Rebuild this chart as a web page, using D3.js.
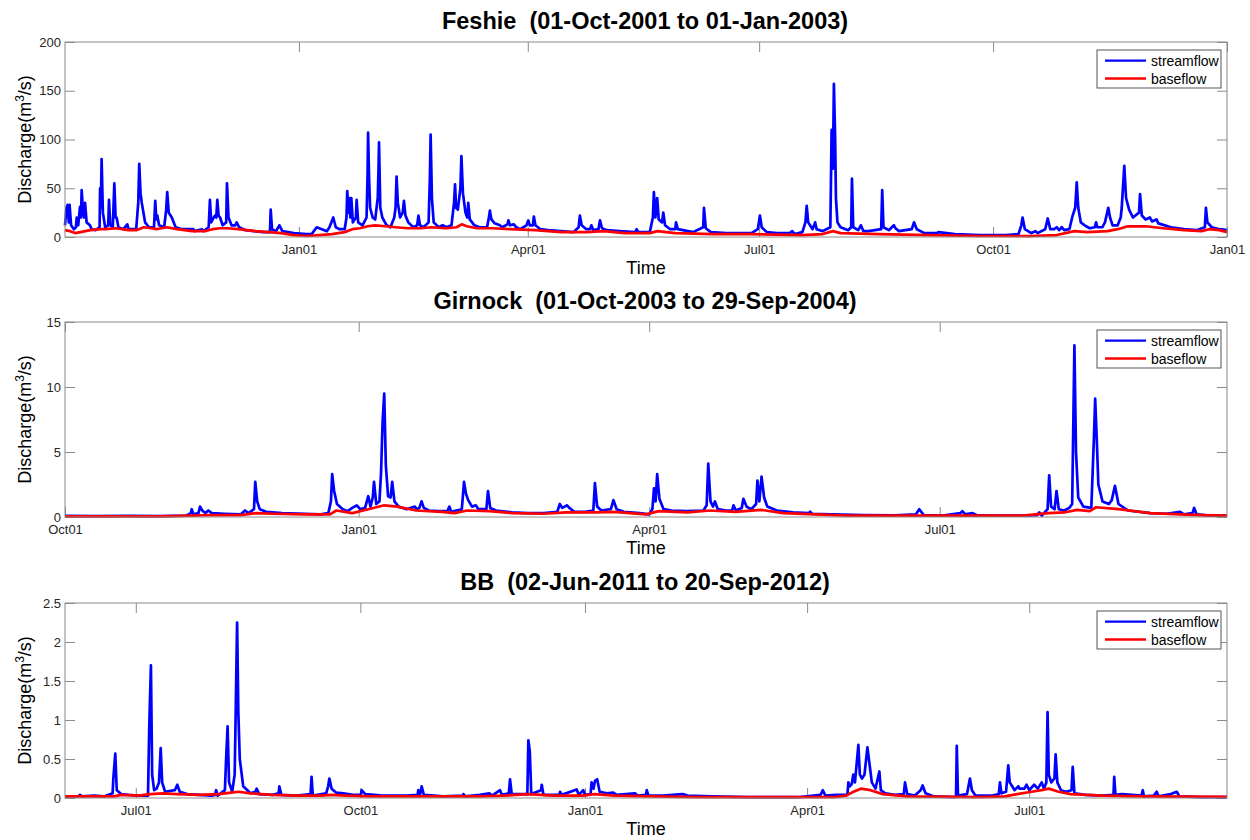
<!DOCTYPE html>
<html>
<head>
<meta charset="utf-8">
<title>Streamflow and baseflow</title>
<script src="https://cdn.jsdelivr.net/npm/d3@7"></script>
<style>
  body { margin: 0; background: #fff; }
  svg { display: block; font-family: "Liberation Sans", Arial, Helvetica, sans-serif; }
</style>
</head>
<body>
<div id="chart"></div>
<script>
// Each series is [day offset from record start, discharge m3/s]

// Feshie, 01-Oct-2001 .. 01-Jan-2003
const feshieRange = ['2001-10-01', '2003-01-01'];
const feshieTicks = ['2002-01-01', '2002-04-01', '2002-07-01', '2002-10-01', '2003-01-01'];
const feshieYTicks = [0, 50, 100, 150, 200];
const feshieStream = [[0,12],[0.6,30],[1,33],[1.5,15],[1.8,33],[2.4,12],[3.5,8],[4.3,10],[4.6,20],[5.2,12],[5.9,31],[6.3,20],[6.55,48],[7,30],[7.5,20],[7.9,35],[8.5,15],[9.8,12],[10.5,8],[12,7],[13.6,10],[13.8,50],[14.1,30],[14.4,80],[14.9,25],[15.8,10],[17,12],[17.3,38],[17.8,12],[18.8,10],[19.4,55],[19.9,20],[20.3,20],[21,10],[23,8],[24.5,13],[25,8],[28,8],[28.8,35],[29.2,75],[29.7,45],[30.2,35],[31.5,15],[33,10],[35,10],[35.5,37],[35.9,18],[36.3,22],[37,12],[39,10],[39.8,28],[40.2,46],[40.8,25],[42,20],[43.5,10],[46,8],[50.5,8],[51,6],[53.8,8],[54.5,6],[56.5,10],[57,38],[57.5,15],[58.5,20],[59,22],[59.5,20],[59.9,38],[60.4,22],[61,20],[62,12],[63.4,15],[63.7,55],[64.3,20],[65.5,12],[67,12],[67.5,15],[68.5,10],[71,7],[78,5],[80.6,5],[80.9,28],[81.4,8],[83,6],[84.3,12],[85.5,6],[90,4],[95,3],[97,3],[99,10],[101,8],[103,6],[104,10],[105.5,20],[106.5,10],[108,8],[110,8],[110.7,20],[111,47],[111.5,25],[111.8,40],[112.2,20],[112.6,40],[113.2,15],[114.4,20],[114.7,38],[115.3,15],[117,12],[118.6,20],[119,65],[119.2,107],[119.6,60],[120,30],[121,20],[122,18],[123,40],[123.3,70],[123.5,97],[124,30],[124.8,20],[126.5,12],[128,10],[129.5,20],[130,30],[130.4,62],[130.9,35],[131.8,20],[132.8,25],[133.3,37],[133.9,22],[135,15],[137,10],[138.5,12],[139,22],[139.6,12],[141,10],[143,15],[143.5,60],[143.8,105],[144.3,40],[145,15],[147,10],[148.5,12],[150,10],[152,12],[153,35],[153.4,54],[153.8,30],[154.5,28],[155.5,50],[155.9,83],[156.5,45],[157.5,25],[158.2,20],[158.6,35],[159.2,18],[161,12],[163,10],[166,10],[166.7,20],[167.1,27],[167.7,18],[169,14],[171,12],[172,10],[174,13],[174.4,17],[175,12],[176.5,13],[177.5,10],[179,8],[181.5,12],[182.2,17],[182.8,12],[184,12],[184.4,21],[185,12],[187,8],[190,7],[195,6],[200,5],[202,10],[202.5,22],[203.2,12],[205,8],[206.5,8],[207,12],[207.8,7],[209.8,8],[210.4,17],[211.2,9],[213,7],[218,6],[224.3,5],[224.8,8],[225.5,5],[230,5],[231.2,20],[231.6,46],[232.2,20],[232.9,40],[233.5,18],[234.8,15],[235.3,25],[236,12],[238,8],[240,8],[240.3,15],[241,8],[245,6],[247,5],[251,10],[251.3,30],[252,9],[254,5],[260,4],[265,4],[270,4],[272.5,8],[273.3,22],[274,10],[276,5],[280,4],[285,4],[286,6],[287,3],[290,5],[291.2,15],[291.7,32],[292.3,15],[294,8],[295,15],[295.6,8],[298,6],[301,10],[301.5,110],[302,70],[302.4,157],[302.9,100],[303.2,40],[303.8,15],[305,10],[308,7],[309.2,10],[309.5,60],[310,10],[312,7],[313,12],[314,6],[316,6],[321,8],[321.4,48],[321.9,10],[324,7],[326,12],[326.6,9],[328,6],[333,8],[333.9,15],[335,8],[338,4],[343,4],[343.5,5],[350,3],[360,2],[370,2],[375,3],[376.1,12],[376.6,20],[377.5,8],[380,4],[381.7,6],[382.5,4],[385.5,8],[386.5,19],[387.5,8],[389,8],[390,10],[391,7],[392,10],[393,7],[395,8],[396.3,22],[397.3,30],[397.9,56],[398.5,30],[399.5,15],[401,12],[403,9],[405,10],[405.5,15],[406,10],[408,10],[409,15],[410.3,30],[411,20],[412,12],[414,12],[415.2,20],[415.6,30],[416.6,73],[417.3,40],[418.5,28],[420,20],[422.4,25],[422.8,44],[423.5,22],[425,18],[426.7,20],[427.5,16],[429.3,18],[430,14],[435,10],[440,8],[445,7],[448.3,10],[448.7,30],[449.3,15],[451,10],[454,8],[457,7]];
const feshieBase = [[0,7],[2,6],[4,4],[6,5],[10,7],[14,8],[16,8],[20,9],[25,7],[28,7],[31,10],[34,9],[36,8],[38,9],[40,10],[44,8],[50,6],[55,6],[58,8],[61,9],[64,9],[68,8],[75,6],[85,4],[90,2],[95,1],[100,2],[105,3],[110,5],[113,8],[116,9],[119,11],[122,12],[126,11],[130,10],[135,9],[140,9],[144,10],[150,9],[154,10],[156,13],[158,11],[162,9],[168,9],[175,8],[185,7],[195,5],[205,5],[212,6],[220,4],[230,4],[233,6],[240,4],[255,3],[270,3],[290,2],[298,3],[302,6],[305,4],[320,3],[340,2],[360,1],[380,1],[390,2],[397,6],[402,5],[410,6],[414,8],[418,11],[425,11],[432,9],[440,7],[447,6],[450,8],[454,7],[457,5]];

// Girnock, 01-Oct-2003 .. 29-Sep-2004
const girnockRange = ['2003-10-01', '2004-09-29'];
const girnockTicks = ['2003-10-01', '2004-01-01', '2004-04-01', '2004-07-01'];
const girnockYTicks = [0, 5, 10, 15];
const girnockStream = [[0,0.08],[10,0.07],[20,0.08],[30,0.06],[38,0.1],[39.4,0.3],[39.7,0.6],[40.2,0.2],[41.8,0.3],[42.3,0.8],[43,0.5],[44,0.3],[44.9,0.5],[46,0.3],[50,0.25],[55,0.2],[56.4,0.5],[57.5,0.3],[59.2,0.6],[59.6,2.7],[60.2,1.2],[61,0.6],[63,0.4],[68,0.3],[75,0.25],[80,0.2],[82.5,0.3],[83.3,1.2],[83.7,3.3],[84.3,2],[85.2,1],[87,0.6],[88.5,0.45],[90,0.7],[91.4,0.9],[92.5,0.6],[94,0.7],[95,1.6],[95.7,0.8],[96.4,1.5],[96.8,2.7],[97.5,1.0],[98.5,1.2],[99,3.4],[99.5,7.4],[100,9.5],[100.5,4],[101.2,1.6],[102,1.5],[102.5,2.7],[103.2,1.2],[104.5,0.8],[107,0.6],[109.6,0.8],[110.2,0.6],[111,0.7],[111.7,1.2],[112.4,0.7],[114,0.5],[117,0.45],[119.8,0.45],[120.4,0.8],[121,0.4],[124.3,0.6],[125,2.7],[125.6,1.8],[126.3,1.3],[127.5,0.8],[128.7,0.9],[129.5,0.6],[132,0.6],[132.5,2.0],[133.2,0.7],[135,0.5],[140,0.35],[145,0.3],[150,0.3],[154.2,0.4],[155,1.0],[155.8,0.7],[157.2,0.9],[158,0.7],[159.5,0.4],[163,0.4],[165.5,0.5],[166,2.6],[166.7,0.8],[168,0.5],[171,0.6],[171.8,1.3],[172.8,0.6],[175,0.4],[180,0.3],[183,0.2],[184,0.6],[184.5,2.2],[185,1.2],[185.5,3.3],[186.2,1.4],[187.5,0.6],[190,0.5],[195,0.45],[200,0.5],[201,0.9],[201.5,4.1],[202.2,1.2],[203,0.8],[203.6,1.2],[204.5,0.6],[207,0.5],[209,0.5],[209.4,0.9],[210.2,0.5],[212,0.7],[212.5,1.4],[213.5,0.8],[215,0.6],[216.5,1],[216.9,2.8],[217.5,1.2],[218.2,3.1],[219,1.5],[220,0.8],[223,0.5],[228,0.35],[233,0.3],[233.4,0.4],[234,0.25],[240,0.2],[250,0.15],[260,0.12],[266.5,0.2],[267.6,0.6],[269,0.15],[275,0.1],[280.5,0.3],[281.1,0.45],[282,0.2],[284.3,0.3],[285.5,0.15],[290,0.1],[300,0.1],[304.5,0.15],[305.2,0.35],[306,0.1],[307.8,0.6],[308.3,3.2],[308.9,0.8],[310,0.6],[310.6,2.0],[311.3,0.6],[313,0.5],[314.6,0.7],[315.5,1.0],[316.2,13.2],[316.7,5],[317.4,1.5],[319,0.8],[321.5,0.7],[322.3,6],[322.7,9.1],[323.2,6],[323.7,2.5],[325,1.2],[327,1],[327.9,1.3],[328.9,2.4],[330,1],[333,0.5],[340,0.3],[345,0.25],[349.3,0.4],[350.5,0.2],[353.2,0.3],[353.7,0.7],[354.5,0.2],[358,0.12],[364,0.1]];
const girnockBase = [[0,0.05],[30,0.05],[40,0.1],[45,0.15],[55,0.15],[60,0.3],[65,0.25],[75,0.2],[83,0.2],[85,0.5],[90,0.3],[95,0.6],[100,0.9],[104,0.8],[110,0.5],[118,0.4],[122,0.3],[126,0.5],[133,0.45],[140,0.3],[150,0.25],[157,0.35],[166,0.35],[172,0.4],[182,0.2],[186,0.45],[195,0.35],[202,0.5],[210,0.4],[218,0.55],[225,0.3],[235,0.2],[245,0.1],[300,0.1],[308,0.3],[313,0.35],[317,0.55],[321,0.45],[323,0.75],[330,0.6],[340,0.3],[355,0.15],[364,0.1]];

// BB, 02-Jun-2011 .. 20-Sep-2012
const bbRange = ['2011-06-02', '2012-09-20'];
const bbTicks = ['2011-07-01', '2011-10-01', '2012-01-01', '2012-04-01', '2012-07-01'];
const bbYTicks = [0, 0.5, 1, 1.5, 2, 2.5];
const bbStream = [[0,0.02],[5.5,0.02],[6.1,0.04],[7,0.02],[12,0.03],[16,0.02],[19.5,0.06],[19.8,0.25],[20.6,0.57],[21.2,0.1],[23,0.05],[26,0.04],[30,0.03],[34,0.03],[34.5,0.9],[35.2,1.7],[35.7,0.3],[36.5,0.1],[37.5,0.12],[38.5,0.2],[39.2,0.64],[39.8,0.2],[41,0.08],[45,0.1],[46,0.17],[47,0.08],[50,0.05],[55,0.04],[60,0.03],[61.5,0.04],[61.9,0.1],[62.5,0.03],[65.5,0.1],[66,0.5],[66.6,0.92],[67.2,0.2],[68.5,0.08],[69.5,0.3],[69.8,0.85],[70.5,2.25],[71,1.1],[71.6,0.5],[73,0.15],[76,0.06],[78,0.08],[78.5,0.12],[79.5,0.05],[85,0.04],[87.5,0.06],[87.8,0.15],[88.6,0.04],[95,0.03],[100.6,0.05],[101,0.27],[101.5,0.03],[107,0.06],[107.8,0.15],[108.3,0.25],[109.2,0.12],[111,0.07],[114,0.06],[118,0.04],[121.2,0.04],[121.5,0.1],[123,0.05],[130,0.03],[140,0.03],[144.5,0.04],[144.7,0.1],[145.5,0.05],[146.1,0.15],[147,0.04],[155,0.02],[163,0.03],[163.2,0.05],[164,0.02],[170,0.04],[173.8,0.06],[175,0.03],[178.2,0.1],[179,0.04],[181.8,0.06],[182.3,0.24],[183,0.05],[189.4,0.05],[189.8,0.74],[190.4,0.6],[191,0.05],[195,0.1],[195.3,0.17],[196,0.04],[202.5,0.04],[202.8,0.08],[203.5,0.04],[209.6,0.11],[210.5,0.04],[212.3,0.1],[213,0.04],[215.3,0.05],[215.7,0.2],[216.5,0.12],[217.1,0.22],[218,0.24],[219,0.08],[222,0.06],[224.6,0.07],[226,0.04],[233.5,0.06],[234.5,0.03],[238,0.04],[238.3,0.1],[239,0.03],[245,0.03],[253,0.05],[255,0.03],[265,0.02],[280,0.01],[300,0.01],[309.5,0.04],[310.4,0.1],[311.5,0.03],[316,0.04],[320.5,0.04],[320.9,0.2],[321.5,0.15],[322.3,0.18],[322.9,0.3],[323.6,0.2],[325,0.68],[325.6,0.3],[326.5,0.25],[327.5,0.3],[328.7,0.65],[329.3,0.5],[330.5,0.2],[332,0.12],[333.6,0.34],[334.2,0.1],[336,0.06],[340,0.04],[343.6,0.05],[344.1,0.2],[345,0.05],[348,0.03],[350.5,0.1],[351.3,0.16],[352.5,0.06],[356,0.02],[364,0.01],[365,0.02],[365.3,0.67],[365.8,0.03],[369.5,0.05],[370.7,0.25],[371.5,0.1],[373,0.03],[380,0.03],[382.5,0.05],[383,0.2],[383.6,0.06],[385.5,0.08],[386.4,0.42],[387,0.2],[388,0.15],[389,0.1],[390.5,0.15],[391,0.12],[393,0.12],[393.9,0.17],[395,0.1],[397,0.17],[398.5,0.12],[400.1,0.2],[401,0.12],[402,0.2],[402.5,1.1],[403,0.3],[404,0.2],[405.3,0.25],[405.8,0.56],[406.5,0.2],[408,0.1],[410,0.08],[412.3,0.1],[412.8,0.4],[413.5,0.06],[418,0.04],[425,0.03],[429.5,0.04],[429.8,0.27],[430.3,0.04],[433,0.05],[441,0.03],[441.5,0.1],[442,0.02],[446,0.03],[447.2,0.08],[448,0.02],[453,0.05],[455.4,0.08],[456.5,0.02],[465,0.01],[476,0.01]];
const bbBase = [[0,0.02],[20,0.02],[23,0.04],[30,0.03],[35,0.05],[40,0.06],[46,0.05],[55,0.04],[63,0.05],[68,0.07],[71,0.08],[76,0.06],[85,0.04],[95,0.03],[105,0.03],[109,0.04],[115,0.03],[125,0.02],[170,0.02],[180,0.03],[190,0.05],[200,0.03],[212,0.03],[217,0.05],[225,0.03],[240,0.02],[260,0.01],[315,0.01],[320,0.03],[323,0.08],[326,0.12],[330,0.1],[335,0.05],[345,0.02],[375,0.01],[385,0.02],[390,0.05],[396,0.08],[400,0.1],[403,0.12],[407,0.08],[412,0.05],[425,0.03],[440,0.02],[476,0.015]];

const seriesNames = ['streamflow', 'baseflow'];
const seriesColors = ['#0000ff', '#ff0000'];

const panels = [
    { title: 'Feshie  (01-Oct-2001 to 01-Jan-2003)', range: feshieRange, ticks: feshieTicks, yTicks: feshieYTicks, stream: feshieStream, base: feshieBase, top: 42 },
    { title: 'Girnock  (01-Oct-2003 to 29-Sep-2004)', range: girnockRange, ticks: girnockTicks, yTicks: girnockYTicks, stream: girnockStream, base: girnockBase, top: 322 },
    { title: 'BB  (02-Jun-2011 to 20-Sep-2012)', range: bbRange, ticks: bbTicks, yTicks: bbYTicks, stream: bbStream, base: bbBase, top: 603 }
];

const width = 1250, height = 840;
const left = 65, right = 1227, plotH = 195;
const frameColor = '#8a8a8a';
const labelColor = '#262626';
const tickLen = 10;

const svg = d3.select('#chart').append('svg')
    .attr('width', width)
    .attr('height', height);

svg.append('rect').attr('width', width).attr('height', height).attr('fill', '#fff');

const parse = d3.utcParse('%Y-%m-%d');
const fmt = d3.utcFormat('%b%d');

panels.forEach(p => {
    const start = parse(p.range[0]);
    const end = parse(p.range[1]);
    const toDate = day => new Date(start.getTime() + day * 864e5);
    const top = p.top, bottom = p.top + plotH;

    const x = d3.scaleUtc().domain([start, end]).range([left, right]);
    const y = d3.scaleLinear().domain([0, d3.max(p.yTicks)]).range([bottom, top]);
    const tickDates = p.ticks.map(parse);

    const g = svg.append('g');

    // inward ticks on all four sides, matlab style
    const styleAxis = sel => {
        sel.select('.domain').remove();
        sel.selectAll('.tick line').attr('stroke', frameColor);
        sel.selectAll('.tick text').attr('fill', labelColor).style('font-size', '13px').style('font-family', 'inherit');
    };

    g.append('g').attr('transform', `translate(0,${bottom})`)
        .call(d3.axisBottom(x).tickValues(tickDates).tickFormat(fmt).tickSizeInner(-tickLen).tickSizeOuter(0))
        .call(styleAxis)
        .selectAll('.tick text').attr('dy', '0.71em').attr('y', 8);

    g.append('g').attr('transform', `translate(0,${top})`)
        .call(d3.axisTop(x).tickValues(tickDates).tickFormat('').tickSizeInner(-tickLen).tickSizeOuter(0))
        .call(styleAxis);

    g.append('g').attr('transform', `translate(${left},0)`)
        .call(d3.axisLeft(y).tickValues(p.yTicks).tickFormat(d => String(d)).tickSizeInner(-tickLen).tickSizeOuter(0).tickPadding(4))
        .call(styleAxis);

    g.append('g').attr('transform', `translate(${right},0)`)
        .call(d3.axisRight(y).tickValues(p.yTicks).tickFormat('').tickSizeInner(-tickLen).tickSizeOuter(0))
        .call(styleAxis);

    // series, baseflow drawn last so it sits on top
    const line = d3.line()
        .x(d => x(toDate(d[0])))
        .y(d => y(d[1]));

    [p.stream, p.base].forEach((data, i) => {
        g.append('path')
            .datum(data)
            .attr('d', line)
            .attr('fill', 'none')
            .attr('stroke', seriesColors[i])
            .attr('stroke-width', 2.7)
            .attr('stroke-linejoin', 'round');
    });

    // frame
    g.append('rect')
        .attr('x', left).attr('y', top)
        .attr('width', right - left).attr('height', plotH)
        .attr('fill', 'none')
        .attr('stroke', frameColor);

    // title and axis labels
    g.append('text')
        .attr('x', (left + right) / 2 - 1).attr('y', top - 13.5)
        .attr('text-anchor', 'middle')
        .style('white-space', 'pre')
        .style('font-size', '23.5px')
        .style('font-weight', 'bold')
        .attr('fill', '#000')
        .text(p.title);

    g.append('text')
        .attr('x', (left + right) / 2).attr('y', bottom + 37)
        .attr('text-anchor', 'middle')
        .style('font-size', '18px')
        .attr('fill', '#000')
        .text('Time');

    const yl = g.append('text')
        .attr('transform', `translate(31,${(top + bottom) / 2}) rotate(-90)`)
        .attr('text-anchor', 'middle')
        .style('font-size', '18px')
        .attr('fill', '#000');
    yl.append('tspan').text('Discharge(m');
    yl.append('tspan').attr('dy', -7).style('font-size', '12px').text('3');
    yl.append('tspan').attr('dy', 7).text('/s)');

    // legend
    const lg = g.append('g').attr('transform', `translate(1097,${top + 8})`);
    lg.append('rect')
        .attr('width', 124).attr('height', 38)
        .attr('fill', '#fff')
        .attr('stroke', '#555');
    seriesNames.forEach((name, i) => {
        const ly = 10.7 + i * 17.8;
        lg.append('line')
            .attr('x1', 8).attr('x2', 49)
            .attr('y1', ly).attr('y2', ly)
            .attr('stroke', seriesColors[i])
            .attr('stroke-width', 2.3);
        lg.append('text')
            .attr('x', 54).attr('y', ly + 5)
            .style('font-size', '14px')
            .attr('fill', '#000')
            .text(name);
    });
});
</script>
</body>
</html>
